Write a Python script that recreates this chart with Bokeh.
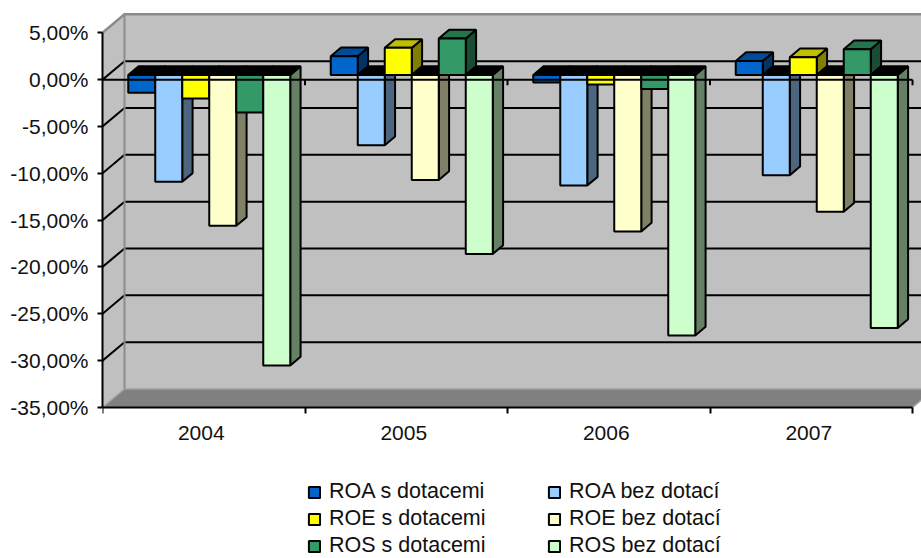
from bokeh.embed import file_html
from bokeh.resources import INLINE
from bokeh.plotting import figure
from bokeh.models import Range1d, FixedTicker, Legend, LegendItem, ColumnDataSource

years = ["2004", "2005", "2006", "2007"]
y_ticks = [5, 0, -5, -10, -15, -20, -25, -30, -35]
y_labels = ["5,00%", "0,00%", "-5,00%", "-10,00%", "-15,00%", "-20,00%", "-25,00%", "-30,00%", "-35,00%"]

roa_s = [-1.9, 2.0, -0.8, 1.5]
roa_b = [-11.4, -7.5, -11.8, -10.7]
roe_s = [-2.5, 2.9, -1.0, 1.9]
roe_b = [-16.1, -11.2, -16.7, -14.6]
ros_s = [-4.0, 3.9, -1.5, 2.75]
ros_b = [-31.0, -19.1, -27.8, -27.0]

series = [
    ("ROA s dotacemi", roa_s, (0x00, 0x66, 0xCC)),
    ("ROA bez dotací", roa_b, (0x99, 0xCC, 0xFF)),
    ("ROE s dotacemi", roe_s, (0xFF, 0xFF, 0x00)),
    ("ROE bez dotací", roe_b, (0xFF, 0xFF, 0xCC)),
    ("ROS s dotacemi", ros_s, (0x33, 0x99, 0x66)),
    ("ROS bez dotací", ros_b, (0xCC, 0xFF, 0xCC)),
]

W, H = 921, 558
LEFT, BOTTOM_Y = 102, 407
PX_CAT = 202.5
Y_TOP = 8.45
Y_MIN = -35
PX_PCT = BOTTOM_Y / (Y_TOP - Y_MIN)
DX = 22 / PX_CAT      # full depth of the box, in category units
DY = 18.5 / PX_PCT    # full depth of the box, in percent units
FRONT, BACK = 0.25, 0.72   # bar depth span inside the box
BAR = 1 / 7.5
FONT = "Liberation Sans"
FS = "21px"


def hexc(rgb, k=1.0):
    return "#%02x%02x%02x" % tuple(int(round(c * k)) for c in rgb)


p = figure(
    width=W, height=H, frame_width=W - LEFT, frame_height=H,
    x_range=Range1d(0, (W - LEFT) / PX_CAT), y_range=Range1d(Y_TOP - H / PX_PCT, Y_TOP),
    output_backend="svg", toolbar_location=None, tools="",
    min_border_left=LEFT, min_border_right=0, min_border_top=0, min_border_bottom=0,
    margin=0,
    outline_line_color=None, background_fill_color="white", border_fill_color="white",
)
p.grid.visible = False

# axes
ax = p.yaxis[0]
ax.ticker = FixedTicker(ticks=y_ticks)
ax.major_label_overrides = {t: l for t, l in zip(y_ticks, y_labels)}
ax.bounds = (Y_MIN, y_ticks[0])
ax.axis_line_width = 2
ax.axis_line_color = "black"
ax.major_tick_line_width = 2
ax.major_tick_line_color = "black"
ax.major_tick_out = 5
ax.major_tick_in = 0
ax.minor_tick_line_color = None
ax.major_label_standoff = 9
ax.major_label_text_font = FONT
ax.major_label_text_font_size = FS
ax.major_label_text_color = "#111111"

xa = p.xaxis[0]
LABEL_SHIFT = 2.5 / PX_CAT
centers = [i + 0.5 - LABEL_SHIFT for i in range(len(years))]
edges = list(range(len(years) + 1))
xa.fixed_location = Y_MIN
xa.bounds = (edges[0], edges[-1])
xa.ticker = FixedTicker(ticks=centers, minor_ticks=edges)
xa.major_label_overrides = {c: y for c, y in zip(centers, years)}
xa.axis_line_width = 2
xa.axis_line_color = "black"
xa.major_tick_line_color = None
xa.major_tick_out = 5
xa.major_tick_in = 0
xa.minor_tick_line_width = 2
xa.minor_tick_line_color = "black"
xa.minor_tick_out = 6
xa.minor_tick_in = 0
xa.major_label_standoff = 12
xa.major_label_text_font = FONT
xa.major_label_text_font_size = FS
xa.major_label_text_color = "#111111"

# walls and floor
x_end = edges[-1]
WALL, FLOOR, EDGE = "#c0c0c0", "#808080", "#8c8c8c"
top = y_ticks[0]
p.patch([DX, x_end + DX, x_end + DX, DX], [top + DY, top + DY, Y_MIN + DY, Y_MIN + DY],
        fill_color=WALL, line_color=None)
p.patch([0, DX, DX, 0], [top, top + DY, Y_MIN + DY, Y_MIN], fill_color=WALL, line_color=None)
p.patch([0, DX, x_end + DX, x_end], [Y_MIN, Y_MIN + DY, Y_MIN + DY, Y_MIN], fill_color=FLOOR, line_color=None)

# gridlines, back wall and side wall
inner = [t for t in y_ticks if t not in (y_ticks[0], y_ticks[-1])]
p.segment(x0=[DX] * len(inner), y0=[t + DY for t in inner], x1=[x_end + DX] * len(inner),
          y1=[t + DY for t in inner], line_color="black", line_width=2)
p.segment(x0=[0] * len(inner), y0=inner, x1=[DX] * len(inner), y1=[t + DY for t in inner],
          line_color="black", line_width=2)

# wall edges
p.line([0, DX, x_end + DX], [top, top + DY, top + DY], line_color=EDGE, line_width=2.5)
p.line([DX, DX], [top + DY, Y_MIN + DY], line_color=EDGE, line_width=2)
p.line([0, DX, x_end + DX], [Y_MIN, Y_MIN + DY, Y_MIN + DY], line_color="#a0a0a0", line_width=1.5)
p.line([x_end, x_end + DX], [Y_MIN, Y_MIN + DY], line_color="#a0a0a0", line_width=1.5)

# bars
fx, fy = FRONT * DX, FRONT * DY
bx, by = BACK * DX, BACK * DY
renderers = {}
for s, (name, vals, rgb) in enumerate(series):
    left = [c + (0.75 + s) * BAR + fx for c in range(len(vals))]
    right = [l + BAR for l in left]
    front_top = [max(v, 0) + fy for v in vals]
    front_bot = [min(v, 0) + fy for v in vals]
    d_x, d_y = bx - fx, by - fy
    side = ColumnDataSource(dict(
        xs=[[r, r + d_x, r + d_x, r] for r in right],
        ys=[[t, t + d_y, b + d_y, b] for t, b in zip(front_top, front_bot)],
    ))
    cap = ColumnDataSource(dict(
        xs=[[l, l + d_x, r + d_x, r] for l, r in zip(left, right)],
        ys=[[t, t + d_y, t + d_y, t] for t in front_top],
        c=[hexc(rgb, 0.75) if v > 0 else "#000000" for v in vals],
    ))
    p.patches("xs", "ys", source=side, fill_color=hexc(rgb, 0.5), line_color="black", line_width=2)
    p.patches("xs", "ys", source=cap, fill_color="c", line_color="black", line_width=2)
    renderers[name] = p.quad(left=left, right=right, top=front_top, bottom=front_bot,
                             fill_color=hexc(rgb), line_color="black", line_width=2)

# category axis line at zero, in front of the bars
p.line([0, x_end], [0, 0], line_color="black", line_width=2)
p.segment(x0=edges[1:], y0=[0] * len(edges[1:]), x1=edges[1:], y1=[-0.6] * len(edges[1:]),
          line_color="black", line_width=2)

# legend
names = [s[0] for s in series]
items = [LegendItem(label=n, renderers=[renderers[n]]) for n in names[0::2] + names[1::2]]
lg = Legend(items=items, location=(205, 0), orientation="vertical", nrows=3, ncols=2,
            background_fill_alpha=0, border_line_color=None,
            padding=0, margin=0, spacing=2,
            glyph_width=14, glyph_height=14, label_standoff=8, label_width=216,
            label_text_font=FONT, label_text_font_size="21.5px", label_text_color="#111111",
            label_height=21)
p.add_layout(lg, "center")

open("out.html", "w").write(file_html(p, INLINE))
